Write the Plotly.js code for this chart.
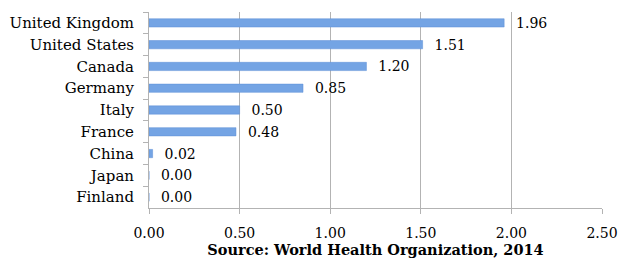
<!DOCTYPE html>
<html>
<head>
<meta charset="utf-8">
<script src="https://cdn.plot.ly/plotly-3.0.1.min.js"></script>
<style>html,body{margin:0;padding:0;background:#fff;}#chart{width:620px;height:260px;}</style>
</head>
<body>
<div id="chart"></div>
<script>
var countries = ["United Kingdom","United States","Canada","Germany","Italy","France","China","Japan","Finland"];
var values = [1.96, 1.51, 1.20, 0.85, 0.50, 0.48, 0.02, 0.00, 0.00];
var xTicks = [0, 0.5, 1.0, 1.5, 2.0, 2.5];
var xTickLabels = ["0.00","0.50","1.00","1.50","2.00","2.50"];
var sourceText = "Source: World Health Organization, 2014";

var font = "DejaVu Serif";
var trace = {
  type: "bar",
  orientation: "h",
  y: countries,
  x: values,
  text: values.map(function(v){return "\u00a0\u00a0" + v.toFixed(2);}),
  textposition: "outside",
  constraintext: "none",
  textfont: {family: font, size: 14, color: "#000"},
  outsidetextfont: {family: font, size: 14, color: "#000"},
  cliponaxis: false,
  marker: {color: "#74a4e4", line: {color: "#5d8fd6", width: 0.5}},
  hoverinfo: "none"
};
var layout = {
  width: 620, height: 260,
  margin: {l: 149, r: 18, t: 12, b: 52},
  paper_bgcolor: "#fff", plot_bgcolor: "#fff",
  showlegend: false,
  bargap: 0.62,
  font: {family: font, size: 14, color: "#000"},
  xaxis: {
    range: [0, 2.5],
    tickvals: xTicks, ticktext: xTickLabels,
    showgrid: true, gridcolor: "#b3b3b3", gridwidth: 1,
    zeroline: false,
    showline: true, linecolor: "#b3b3b3", linewidth: 1,
    ticks: "outside", ticklen: 5, tickcolor: "#b3b3b3",
    ticklabelstandoff: 7,
    tickfont: {family: font, size: 14, color: "#000"},
    title: {text: "<b>" + sourceText + "</b>", font: {family: font, size: 14.5, color: "#000"}, standoff: 5}
  },
  yaxis: {
    type: "category",
    autorange: "reversed",
    showgrid: false, zeroline: false,
    showline: true, linecolor: "#b3b3b3", linewidth: 1,
    ticks: "outside", ticklen: 5, tickcolor: "#b3b3b3",
    tickson: "boundaries",
    tickfont: {family: font, size: 15, color: "#000"},
    ticklabelstandoff: 11
  }
};
Plotly.newPlot("chart", [trace], layout, {staticPlot: true, displayModeBar: false});
</script>
</body>
</html>
